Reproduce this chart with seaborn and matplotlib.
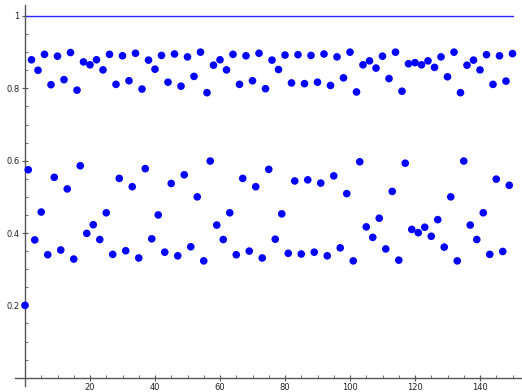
import matplotlib
matplotlib.use("Agg")
import matplotlib.pyplot as plt
import seaborn as sns
import pandas as pd
import numpy as np

# x positions
x_first = [0]
y_first = [0.200]

x_odd = list(range(1, 150, 2))
y_odd = [0.575, 0.381, 0.458, 0.340, 0.554, 0.353, 0.522, 0.328, 0.586, 0.399,
         0.423, 0.382, 0.456, 0.341, 0.551, 0.351, 0.528, 0.331, 0.578, 0.384,
         0.450, 0.347, 0.537, 0.337, 0.561, 0.362, 0.500, 0.323, 0.599, 0.422,
         0.382, 0.456, 0.340, 0.551, 0.350, 0.528, 0.331, 0.576, 0.383, 0.453,
         0.344, 0.544, 0.342, 0.547, 0.347, 0.538, 0.337, 0.558, 0.359, 0.509,
         0.323, 0.597, 0.417, 0.388, 0.441, 0.356, 0.515, 0.325, 0.593, 0.410,
         0.401, 0.416, 0.391, 0.437, 0.361, 0.500, 0.323, 0.599, 0.422, 0.382,
         0.456, 0.341, 0.549, 0.349, 0.532]

x_even = list(range(2, 151, 2))
y_even = [0.879, 0.850, 0.894, 0.810, 0.889, 0.824, 0.899, 0.795, 0.873, 0.865,
          0.879, 0.851, 0.894, 0.811, 0.890, 0.821, 0.897, 0.798, 0.878, 0.853,
          0.891, 0.817, 0.895, 0.806, 0.887, 0.833, 0.900, 0.788, 0.864, 0.879,
          0.851, 0.894, 0.811, 0.890, 0.821, 0.897, 0.799, 0.878, 0.852, 0.892,
          0.815, 0.893, 0.813, 0.891, 0.817, 0.895, 0.808, 0.887, 0.829, 0.900,
          0.790, 0.865, 0.876, 0.856, 0.889, 0.827, 0.900, 0.792, 0.868, 0.871,
          0.865, 0.876, 0.858, 0.887, 0.832, 0.900, 0.788, 0.864, 0.878, 0.851,
          0.893, 0.811, 0.890, 0.820, 0.896]

line_x = [0, 150]
line_y = [1, 1]

x_ticks = [20, 40, 60, 80, 100, 120, 140]
y_ticks = [0.2, 0.4, 0.6, 0.8, 1.0]
y_tick_labels = ["0.2", "0.4", "0.6", "0.8", "1"]

pts = pd.DataFrame({"x": x_first + x_odd + x_even,
                    "y": y_first + y_odd + y_even})
ln = pd.DataFrame({"x": line_x, "y": line_y})

sns.set_style("white")
fig = plt.figure(figsize=(5.22, 3.92), dpi=100)
ax = fig.add_axes([0, 0, 1, 1])

sns.lineplot(data=ln, x="x", y="y", ax=ax, color=(0.15, 0.15, 1.0), lw=1.0, zorder=2)
sns.scatterplot(data=pts, x="x", y="y", ax=ax, color="blue", s=30,
                edgecolor="none", linewidth=0, zorder=3)

ax.set_xlim(-25 / 3.25, (522 - 25) / 3.25)
ax.set_ylim((377.7 - 392) / 361.7, 377.7 / 361.7)

axcol = "#555555"
for s in ["top", "right"]:
    ax.spines[s].set_visible(False)
ax.spines["left"].set_position(("data", 0))
ax.spines["bottom"].set_position(("data", 0))
ax.spines["left"].set_bounds(-0.023, 1.03)
ax.spines["bottom"].set_bounds(-3.1, 152.7)
for s in ["left", "bottom"]:
    ax.spines[s].set_color(axcol)
    ax.spines[s].set_linewidth(1.0)

ax.set_xticks(x_ticks)
ax.set_xticklabels([str(t) for t in x_ticks])
ax.set_yticks(y_ticks)
ax.set_yticklabels(y_tick_labels)
ax.set_xticks(np.arange(5, 153, 5), minor=True)
ax.set_yticks(np.arange(0.05, 1.03, 0.05), minor=True)
ax.tick_params(which="major", direction="inout", length=4, width=0.8, color=axcol,
               labelsize=6, labelcolor="#222222", pad=2)
ax.tick_params(which="minor", direction="in", length=2, width=0.6, color=axcol)
ax.tick_params(axis="both", which="both", bottom=True, left=True)
ax.set_xlabel("")
ax.set_ylabel("")
ax.grid(False)

fig.savefig("out.png", dpi=100)
